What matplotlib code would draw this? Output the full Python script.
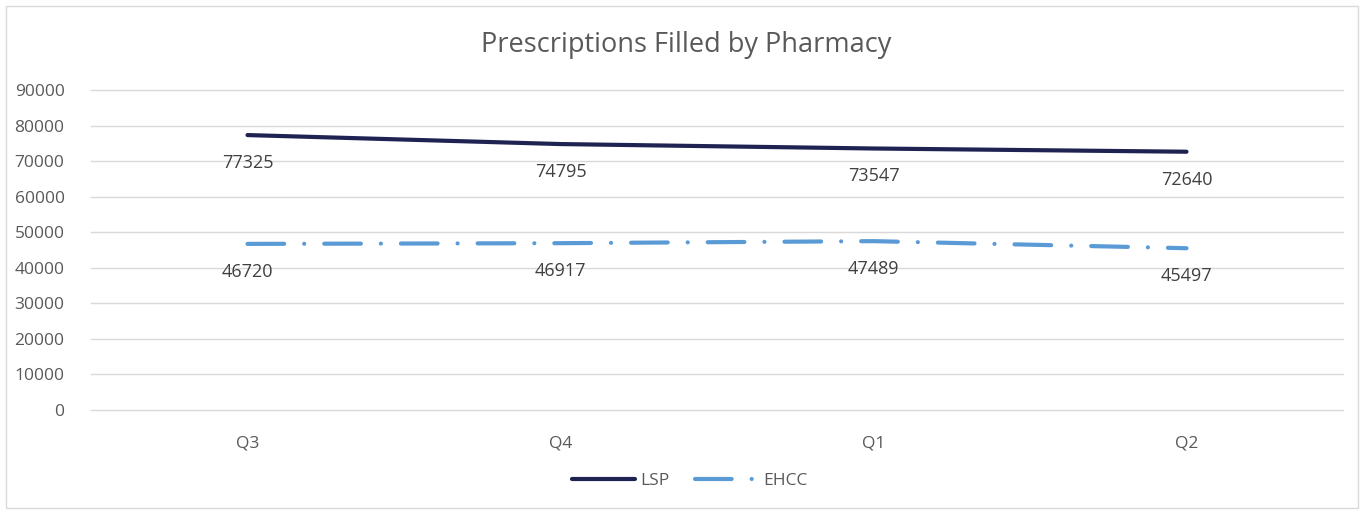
import matplotlib.pyplot as plt
from matplotlib.patches import Rectangle

quarters = ["Q3", "Q4", "Q1", "Q2"]
lsp = [77325, 74795, 73547, 72640]
ehcc = [46720, 46917, 47489, 45497]
yticks = list(range(0, 90001, 10000))

plt.rcParams['font.family'] = ['Open Sans', 'DejaVu Sans']
txt = '#595959'

fig = plt.figure(figsize=(13.66, 5.11), dpi=100)
fig.patches.append(Rectangle((6 / 1366, 3 / 511), 1352 / 1366, 502 / 511,
                             transform=fig.transFigure, fill=False,
                             edgecolor='#D9D9D9', linewidth=1))
ax = fig.add_axes([91 / 1366, 1 - 410 / 511, 1252 / 1366, 320 / 511])

x = list(range(len(quarters)))
ax.plot(x, lsp, color='#1F2352', lw=3, solid_capstyle='round', label='LSP')
ax.plot(x, ehcc, color='#5B9BD5', lw=3, dash_capstyle='round',
        dashes=(8.8, 4.8, 0.01, 4.8), label='EHCC')

for xi, v in zip(x, lsp):
    ax.annotate(str(v), (xi, v), xytext=(0, -28), textcoords='offset pixels',
                ha='center', va='center', fontsize=13, color='#404040')
for xi, v in zip(x, ehcc):
    ax.annotate(str(v), (xi, v), xytext=(0, -28), textcoords='offset pixels',
                ha='center', va='center', fontsize=13, color='#404040')

ax.set_xlim(-0.5, 3.5)
ax.set_ylim(0, 90000)
ax.set_yticks(yticks)
ax.set_yticklabels([str(t) for t in yticks])
ax.set_xticks(x)
ax.set_xticklabels(quarters)
ax.tick_params(axis='both', length=0, labelsize=12.5, colors=txt)
ax.tick_params(axis='y', pad=19)
ax.tick_params(axis='x', pad=18)
ax.grid(axis='y', color='#D9D9D9', lw=1)
for gl in ax.get_ygridlines():
    gl.set_clip_on(False)
ax.set_axisbelow(True)
for s in ax.spines.values():
    s.set_visible(False)

fig.text(686 / 1366, 1 - 45 / 511, "Prescriptions Filled by Pharmacy",
         ha='center', va='center', fontsize=19.5, color=txt)

leg = fig.legend(loc='center', bbox_to_anchor=(690 / 1366, 1 - 481 / 511),
                 ncol=2, frameon=False, fontsize=12.5, handlelength=3.6,
                 columnspacing=1.5, handletextpad=0.3)
for t in leg.get_texts():
    t.set_color(txt)

fig.savefig('out.png', dpi=100)
